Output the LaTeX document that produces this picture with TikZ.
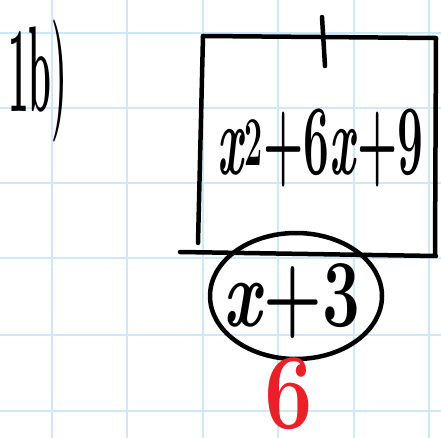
\documentclass[tikz,border=0pt]{standalone}
\definecolor{GridBlue}{RGB}{206,232,250}
\definecolor{InkRed}{RGB}{232,32,40}
\tikzset{
    pen/.style={black, line width=4.5pt, line cap=round, line join=round},
    gridline/.style={GridBlue, line width=2pt},
    ink/.style={inner sep=0pt, anchor=base west}
}
\newcommand{\vx}{\textit{x}}

\begin{document}
\begin{tikzpicture}[x=1pt,y=1pt]
\useasboundingbox (0,0) rectangle (441,-438);

% Grid paper
\foreach \gx in {52,127,203,278,354,429}
    \draw[gridline] (\gx,0) -- (\gx,-438);
\foreach \gy in {33,108,183,258,335,411}
    \draw[gridline] (0,-\gy) -- (441,-\gy);

% Question label
\node[ink, font=\fontsize{122}{122}\selectfont\bfseries] (qlabel) at (8,-112)
    {\scalebox{0.3}[1]{1b)}};

% Box with tick on top
\draw[pen] (203,-36) -- (436,-38) -- (435,-254);
\draw[pen] (203,-36) -- (198,-243);
\draw[pen] (180,-252) -- (436,-256);
\draw[pen] (322,-17) -- (325,-66);
\node[ink, font=\fontsize{100}{100}\selectfont\bfseries] (dividend) at (217,-175)
    {\scalebox{0.46}[1]{\vx\textsuperscript{2}+6\vx+9}};

% Circled factor
\draw[pen] (296,-296) ellipse [x radius=86, y radius=63];
\node[ink, font=\fontsize{96}{96}\selectfont\bfseries] (factor) at (223,-326)
    {\scalebox{0.7}[1]{\vx+3}};

% Answer
\node[ink, InkRed, font=\fontsize{108}{108}\selectfont\bfseries] (answer) at (264,-428)
    {\scalebox{0.8}[1]{6}};

\end{tikzpicture}
\end{document}
